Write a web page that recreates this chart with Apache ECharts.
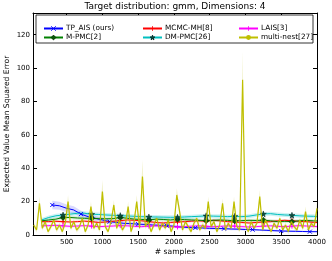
<!DOCTYPE html>
<html><head><meta charset="utf-8">
<script src="https://cdn.jsdelivr.net/npm/echarts@6/dist/echarts.min.js"></script>
<style>html,body{margin:0;padding:0;background:#fff}#c{width:332px;height:261px}</style>
</head><body><div id="c"></div>
<script>
const xTicks = [500,1000,1500,2000,2500,3000,3500,4000];
const yTicks = [0,20,40,60,80,100,120];

const tpX = [300,400,500,600,700,800,900,1000,1100,1200,1300,1400,1500,1600,1700,1800,1900,2000,2100,2200,2300,2400,2500,2600,2700,2800,2900,3000,3100,3200,3300,3400,3500,3600,3700,3800,3900,4000];
const tpY = [18,17.5,16,15,12.5,11,10,9,8,7.5,7,6.8,6.5,6.3,6,5.8,5.6,5.2,4.8,4.5,4.3,4.2,4,3.9,3.8,3.6,3.5,3.3,3.2,3,2.8,2.6,2.4,2.3,2.2,2.1,2,2];
const tpSd = [2.5,2.4,2.3,2.2,2,1.8,1.6,1.5,1.4,1.3,1.2,1.1,1.1,1,1,1,0.9,0.9,0.9,0.8,0.8,0.8,0.8,0.7,0.7,0.7,0.7,0.7,0.6,0.6,0.6,0.6,0.6,0.6,0.6,0.5,0.5,0.5];

const baseX = [150,250,350,450,550,650,750,850,950,1050,1150,1250,1350,1450,1550,1650,1750,1850,1950,2050,2150,2250,2350,2450,2550,2650,2750,2850,2950,3050,3150,3250,3350,3450,3550,3650,3750,3850,3950,4000];
const mcmcY = [8,8,8.2,8,7.8,8,8.3,8,7.5,7.8,8.2,8.6,9,8.8,8.5,8,7.5,7.2,7.5,7.8,8,8.3,8.5,8.2,8.8,8.5,8,7.8,7.5,7.2,7.5,7.8,8,8.5,8.8,8.5,8.2,8,7.6,7.5];
const mcmcSd = 0.8;
const laisY = [5.5,5.6,5.8,5.5,5.2,5.4,5.6,5.3,5,5.2,5.4,5.6,5.5,5.2,5,5.3,5.5,5.2,5,4.8,5,5.3,5.5,5.2,5,5.2,5.5,5.3,5,4.8,5,5.3,5.5,5.2,5,5.3,5.6,5.4,5.2,5];
const laisSd = 0.8;
const mpmcY = [8.5,9,9.5,10.5,10.5,10.2,10,10,9.8,9.7,9.8,10.5,10,9.5,9.3,9,9.5,9.3,9,9.4,9.2,9,8.8,8.6,8.8,9,8.8,8.5,8.6,8.8,8.7,8.9,8.5,8,8.2,8,8.5,8.7,8.5,8.4];
const mpmcSd = 1;
const dmpmcY = [9,10.5,11.5,12,12.5,13,13,12.5,12.3,12,11.8,11.6,11.4,11.2,11,10.8,10.8,10.7,10.6,10.6,10.8,11,11.2,11.5,11.3,11.2,11,11.2,11,11.3,12,12.6,12.8,12.3,12,11.8,11.5,11.3,11.2,11];
const dmpmcSd = 1.2;

const mnX = [40,80,120,160,200,240,280,320,360,400,440,480,520,560,600,640,680,720,760,800,840,880,920,960,1000,1040,1080,1120,1160,1200,1240,1280,1320,1360,1400,1440,1480,1520,1560,1600,1640,1680,1720,1760,1800,1840,1880,1920,1960,2000,2040,2080,2120,2160,2200,2240,2280,2320,2360,2400,2440,2480,2520,2560,2600,2640,2680,2720,2760,2800,2840,2880,2920,2960,3000,3040,3080,3120,3160,3200,3240,3280,3320,3360,3400,3440,3480,3520,3560,3600,3640,3680,3720,3760,3800,3840,3880,3920,3960,4000];
const mnY = [6,3,19,4,8,2,5,9,3,6, 2,7,20,4,8,3,5,10,2,6, 17,4,7,3,26,5,2,8,18,4, 9,3,6,17,2,7,20,4,35,5, 8,2,6,10,3,7,4,9,2,6, 24,14,3,8,5,2,7,10,3,6, 4,20,5,8,2,6,19,3,7,4, 20,5,3,93,6,2,8,4,7,23, 3,9,5,2,7,4,10,3,6,2, 8,5,3,9,4,14,3,7,5,16];
const mnSd = [1.5,1.5,4,1.5,1.5,1.5,1.5,1.5,1.5,1.5, 1.5,1.5,4,1.5,1.5,1.5,1.5,1.5,1.5,1.5, 3,1.5,1.5,1.5,7,1.5,1.5,1.5,3,1.5, 1.5,1.5,1.5,3,1.5,1.5,4,1.5,10,1.5, 1.5,1.5,1.5,1.5,1.5,1.5,1.5,1.5,1.5,1.5, 4,2,1.5,1.5,1.5,1.5,1.5,1.5,1.5,1.5, 1.5,3,1.5,1.5,1.5,1.5,3,1.5,1.5,1.5, 3,1.5,1.5,17,1.5,1.5,1.5,1.5,1.5,4, 1.5,1.5,1.5,1.5,1.5,1.5,1.5,1.5,1.5,1.5, 1.5,1.5,1.5,1.5,1.5,3,1.5,1.5,1.5,4];

const FONT = 'DejaVu Sans';
const SYM_X = 'path://M0,0L10,10M10,0L0,10';
const SYM_PLUS = 'path://M5,0L5,10M0,5L10,5';
const SYM_STAR = 'path://M50,0L61,35L98,35L68,57L79,91L50,70L21,91L32,57L2,35L39,35Z';

function band(xs, ys, sd, color) {
  const sdAt = i => Array.isArray(sd) ? sd[i] : sd;
  return {
    type:'custom', silent:true, z:1, clip:true,
    data:[[xs[0], ys[0]]],
    renderItem: function (params, api) {
      const pts = [];
      for (let i = 0; i < xs.length; i++) pts.push(api.coord([xs[i], ys[i] + sdAt(i)]));
      for (let i = xs.length - 1; i >= 0; i--) pts.push(api.coord([xs[i], Math.max(0, ys[i] - sdAt(i))]));
      return {type:'polygon', shape:{points:pts}, style:{fill:color}};
    }
  };
}

function markData(xs, ys, every) {
  return xs.map((x,i) => every(x) ? [x, ys[i]] : {value:[x, ys[i]], symbol:'none'});
}

const series = [
  band(tpX, tpY, tpSd, 'rgba(0,0,255,0.15)'),
  band(baseX, mcmcY, mcmcSd, 'rgba(255,0,0,0.15)'),
  band(baseX, laisY, laisSd, 'rgba(255,0,255,0.15)'),
  band(baseX, mpmcY, mpmcSd, 'rgba(0,128,0,0.15)'),
  band(baseX, dmpmcY, dmpmcSd, 'rgba(0,191,191,0.2)'),
  band(mnX, mnY, mnSd, 'rgba(191,191,0,0.2)'),
  {type:'line', name:'TP_AIS (ours)', data: markData(tpX, tpY, x => (x-300)%400===0),
   symbol: SYM_X, symbolSize:4, lineStyle:{color:'#0000ff', width:1},
   itemStyle:{color:'#0000ff', borderColor:'#0000ff', borderWidth:1}, z:3},
  {type:'line', name:'MCMC-MH[8]', data: markData(baseX, mcmcY, x => (x-50)%400===0),
   symbol: SYM_PLUS, symbolSize:5, lineStyle:{color:'#ff0000', width:1},
   itemStyle:{color:'#ff0000', borderColor:'#ff0000', borderWidth:1}, z:3},
  {type:'line', name:'LAIS[3]', data: markData(baseX, laisY, x => (x-50)%400===0),
   symbol: SYM_PLUS, symbolSize:5, lineStyle:{color:'#ff00ff', width:1},
   itemStyle:{color:'#ff00ff', borderColor:'#ff00ff', borderWidth:1}, z:3},
  {type:'line', name:'M-PMC[2]', data: markData(baseX, mpmcY, x => (x-50)%400===0),
   symbol:'diamond', symbolSize:6, lineStyle:{color:'#008000', width:1},
   itemStyle:{color:'#0a5a0a', borderColor:'#003000', borderWidth:0.5}, z:3},
  {type:'line', name:'DM-PMC[26]', data: markData(baseX, dmpmcY, x => (x-50)%400===0),
   symbol: SYM_STAR, symbolSize:6, lineStyle:{color:'#00bfbf', width:1},
   itemStyle:{color:'#0b4f3a', borderColor:'#002020', borderWidth:0.5}, z:3},
  {type:'line', name:'multi-nest[27]', data: mnX.map((x,i)=>[x, mnY[i]]),
   symbol:'none', lineStyle:{color:'#bfbf00', width:1.2},
   itemStyle:{color:'#bfbf00'}, z:4}
];

const axisCommonX = {
  type:'value', min:30, max:4000,
  axisLine:{show:true, onZero:false, lineStyle:{color:'#000', width:1}},
  axisTick:{show:true, inside:true, length:4, customValues:xTicks, lineStyle:{color:'#000'}},
  splitLine:{show:false}
};
const axisCommonY = {
  type:'value', min:0, max:133,
  axisLine:{show:true, onZero:false, lineStyle:{color:'#000', width:1}},
  axisTick:{show:true, inside:true, length:4, customValues:yTicks, lineStyle:{color:'#000'}},
  splitLine:{show:false}
};

const legendCommon = {
  orient:'vertical', top:20, itemWidth:19, itemHeight:6, itemGap:2, z:10,
  textStyle:{fontFamily:FONT, fontSize:7.3, color:'#000', padding:[0,0,0,-2]},
  itemStyle:{borderWidth:0.8},
  selectedMode:false
};

const chart = echarts.init(document.getElementById('c'), null, {renderer:'canvas'});
chart.setOption({
  animation:false,
  backgroundColor:'#fff',
  grid:{left:33, right:15, top:13, bottom:26},
  xAxis:[
    Object.assign({}, axisCommonX, {position:'bottom',
      axisLabel:{show:true, customValues:xTicks, formatter: v => String(v), fontFamily:FONT, fontSize:7, color:'#000', margin:4}}),
    Object.assign({}, axisCommonX, {position:'top', axisLabel:{show:false}})
  ],
  yAxis:[
    Object.assign({}, axisCommonY, {position:'left',
      axisLabel:{show:true, customValues:yTicks, formatter: v => String(v), fontFamily:FONT, fontSize:7, color:'#000', margin:3}}),
    Object.assign({}, axisCommonY, {position:'right', axisLabel:{show:false}})
  ],
  legend:[
    Object.assign({}, legendCommon, {left:38, data:['TP_AIS (ours)','M-PMC[2]']}),
    Object.assign({}, legendCommon, {left:137, data:['MCMC-MH[8]','DM-PMC[26]']}),
    Object.assign({}, legendCommon, {left:233, data:['LAIS[3]','multi-nest[27]']})
  ],
  graphic:[
    {type:'rect', z:9, shape:{x:36, y:15, width:277, height:28},
     style:{fill:'#fff', stroke:'#000', lineWidth:0.8}},
    {type:'text', x:175, y:7, style:{text:'Target distribution: gmm, Dimensions: 4',
      font:'9px "DejaVu Sans"', fill:'#000', textAlign:'center', textVerticalAlign:'middle'}},
    {type:'text', x:175, y:252, style:{text:'# samples',
      font:'7.6px "DejaVu Sans"', fill:'#000', textAlign:'center', textVerticalAlign:'middle'}},
    {type:'text', x:7, y:124, rotation:Math.PI/2, style:{text:'Expected Value Mean Squared Error',
      font:'7.6px "DejaVu Sans"', fill:'#000', textAlign:'center', textVerticalAlign:'middle'}}
  ],
  series: series
});
</script>
</body></html>
